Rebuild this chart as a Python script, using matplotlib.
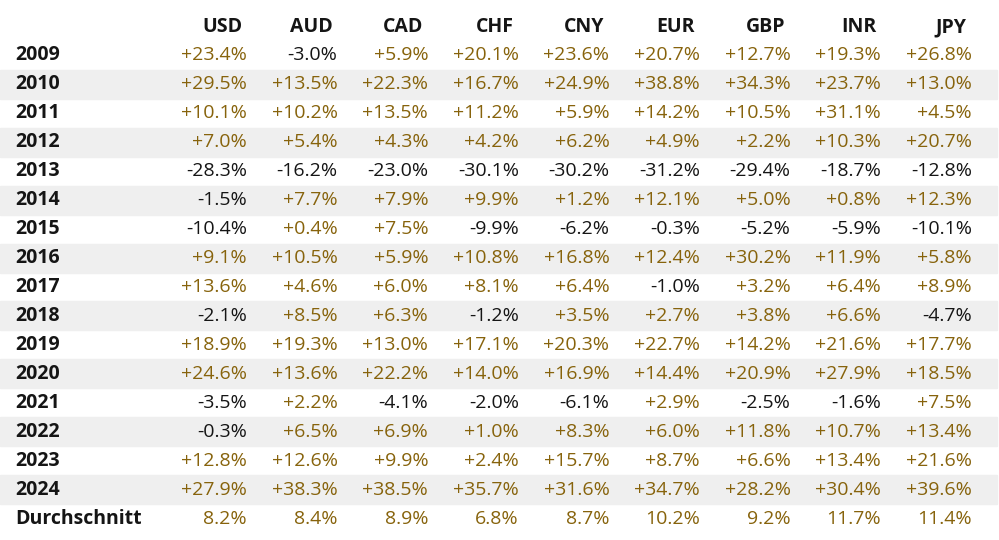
import matplotlib.pyplot as plt
from matplotlib.patches import Rectangle

# Jahresrendite Gold in verschiedenen Waehrungen
currencies = ["USD", "AUD", "CAD", "CHF", "CNY", "EUR", "GBP", "INR", "JPY"]
years = [str(y) for y in range(2009, 2025)]

usd = [23.4, 29.5, 10.1, 7.0, -28.3, -1.5, -10.4, 9.1, 13.6, -2.1, 18.9, 24.6, -3.5, -0.3, 12.8, 27.9]
aud = [-3.0, 13.5, 10.2, 5.4, -16.2, 7.7, 0.4, 10.5, 4.6, 8.5, 19.3, 13.6, 2.2, 6.5, 12.6, 38.3]
cad = [5.9, 22.3, 13.5, 4.3, -23.0, 7.9, 7.5, 5.9, 6.0, 6.3, 13.0, 22.2, -4.1, 6.9, 9.9, 38.5]
chf = [20.1, 16.7, 11.2, 4.2, -30.1, 9.9, -9.9, 10.8, 8.1, -1.2, 17.1, 14.0, -2.0, 1.0, 2.4, 35.7]
cny = [23.6, 24.9, 5.9, 6.2, -30.2, 1.2, -6.2, 16.8, 6.4, 3.5, 20.3, 16.9, -6.1, 8.3, 15.7, 31.6]
eur = [20.7, 38.8, 14.2, 4.9, -31.2, 12.1, -0.3, 12.4, -1.0, 2.7, 22.7, 14.4, 2.9, 6.0, 8.7, 34.7]
gbp = [12.7, 34.3, 10.5, 2.2, -29.4, 5.0, -5.2, 30.2, 3.2, 3.8, 14.2, 20.9, -2.5, 11.8, 6.6, 28.2]
inr = [19.3, 23.7, 31.1, 10.3, -18.7, 0.8, -5.9, 11.9, 6.4, 6.6, 21.6, 27.9, -1.6, 10.7, 13.4, 30.4]
jpy = [26.8, 13.0, 4.5, 20.7, -12.8, 12.3, -10.1, 5.8, 8.9, -4.7, 17.7, 18.5, 7.5, 13.4, 21.6, 39.6]
average = [8.2, 8.4, 8.9, 6.8, 8.7, 10.2, 9.2, 11.7, 11.4]

columns = [usd, aud, cad, chf, cny, eur, gbp, inr, jpy]

GOLD = "#87630c"
DARK = "#151515"
BAND = "#efefef"

plt.rcParams["font.family"] = ["Open Sans", "DejaVu Sans"]

fig = plt.figure(figsize=(9.99, 5.40), dpi=100)
ax = fig.add_axes([0, 0, 1, 1])
ax.set_xlim(0, 999)
ax.set_ylim(540, 0)
ax.axis("off")

fs = 14
header_y = 27
row0 = 55.5
step = 28.94
col0 = 247
col_step = 90.6

# header
for j, c in enumerate(currencies):
    ax.text(col0 + j * col_step - 5, header_y, c, ha="right", va="center",
            fontsize=fs, fontweight="bold", color=DARK)

# rows
labels = years + ["Durchschnitt"]
for i, lab in enumerate(labels):
    y = row0 + i * step
    if i % 2 == 1:
        ax.add_patch(Rectangle((0, y - step / 2), 997, step, color=BAND, zorder=0))
    ax.text(15, y, lab, ha="left", va="center", fontsize=fs,
            fontweight="bold", color=DARK)
    for j in range(len(currencies)):
        if i < len(years):
            v = columns[j][i]
            s = f"{v:+.1f}%"
            col = DARK if v < 0 else GOLD
        else:
            v = average[j]
            s = f"{v:.1f}%"
            col = GOLD
        ax.text(col0 + j * col_step, y, s, ha="right", va="center",
                fontsize=fs, color=col)

fig.savefig("out.png", dpi=100)
